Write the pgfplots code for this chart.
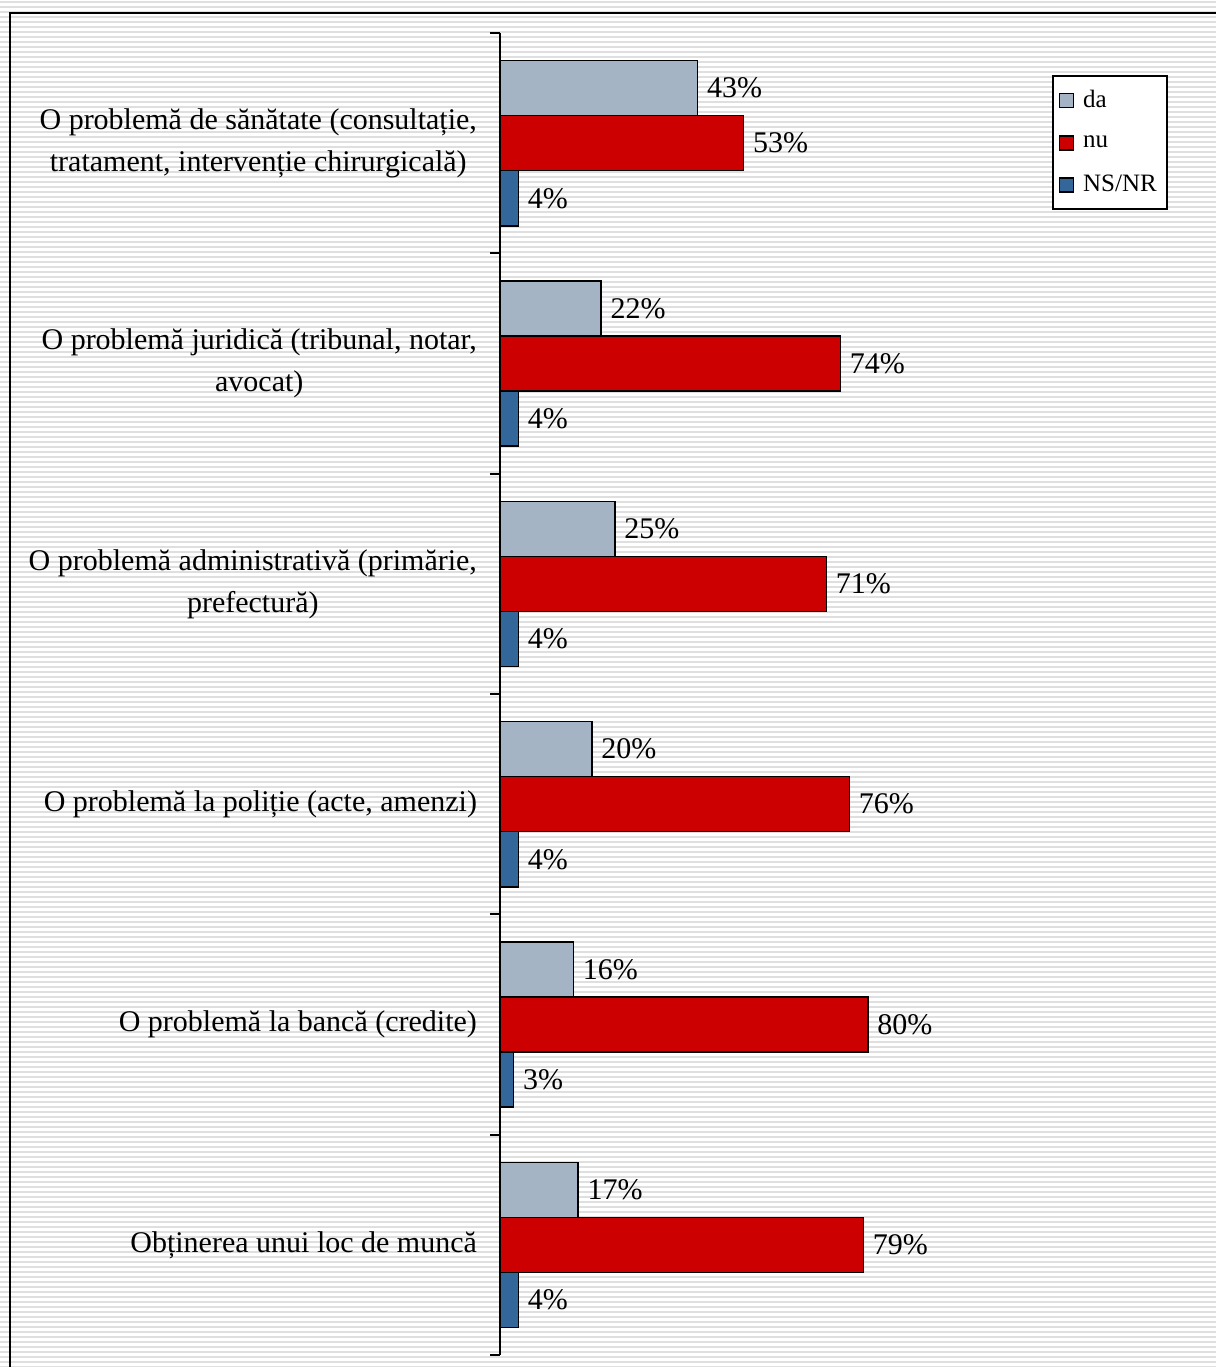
\documentclass[border=0pt]{standalone}
\usepackage{pgfplots}
\pgfplotsset{compat=1.18}
\usepackage{fontspec}
\setmainfont{Liberation Serif}
\definecolor{cda}{RGB}{165,180,196}
\definecolor{cnu}{RGB}{204,0,0}
\definecolor{cns}{RGB}{51,102,153}
\newcommand\lblfont{\fontsize{15}{21}\selectfont}
\begin{document}
\begin{tikzpicture}
\useasboundingbox (-250pt,-6pt) rectangle (358pt,677.5pt);
\clip (-250pt,-6pt) rectangle (358pt,677.5pt);
\fill[white] (-250pt,-6pt) rectangle (358pt,677.5pt);
\foreach \y in {-6,-3.5,...,678} \draw[gray!25, line width=1.1pt] (-250pt,\y pt) -- (358pt,\y pt);
\draw[line width=1pt] (-245pt,-20pt) rectangle (400pt,671pt);
\begin{axis}[
  at={(0pt,0pt)}, anchor=south west,
  scale only axis, width=345pt, height=661pt,
  xbar, bar width=0.25,
  xmin=0, xmax=150, ymin=-0.5, ymax=5.5, y dir=reverse,
  axis x line=none, axis y line*=left,
  axis line style={-, line width=1pt, black},
  ytick={0,...,5},
  yticklabels={{O problemă de sănătate (consultație,\\tratament, intervenție chirurgicală)},
    {O problemă juridică (tribunal, notar,\\avocat)},
    {O problemă administrativă (primărie,\\prefectură)},
    {O problemă la poliție (acte, amenzi)},
    {O problemă la bancă (credite)},
    {Obținerea unui loc de muncă}},
  major tick length=0pt,
  extra y ticks={-0.5,0.5,1.5,2.5,3.5,4.5,5.5},
  extra y tick labels={},
  extra y tick style={major tick length=5pt, tick align=outside, tick style={black, line width=1pt}},
  yticklabel style={align=center, font=\lblfont, anchor=east, xshift=-8pt},
  point meta=x,
  /pgf/number format/assume math mode=true,
  nodes near coords={\pgfmathprintnumber{\pgfplotspointmeta}\%},
  every node near coord/.append style={font=\lblfont, anchor=west, xshift=1pt},
  legend entries={da,nu,NS/NR},
  legend style={at={(0.8,0.968)}, anchor=north west, draw=black, line width=0.8pt, fill=white,
    font=\fontsize{12.5}{15}\selectfont, row sep=8.5pt, inner xsep=3pt, inner ysep=5pt,
    /tikz/every odd column/.append style={column sep=2.5pt}},
  legend cell align=left,
  legend image code/.code={\draw[#1, draw=black, line width=0.7pt] (0pt,-3.5pt) rectangle (7pt,3.5pt);},
  clip=false,
]
\addplot[fill=cda, draw=black, line width=0.7pt, bar shift=-0.25] coordinates {(43,0) (22,1) (25,2) (20,3) (16,4) (17,5)};
\addplot[fill=cnu, draw=black, line width=0.7pt, bar shift=0] coordinates {(53,0) (74,1) (71,2) (76,3) (80,4) (79,5)};
\addplot[fill=cns, draw=black, line width=0.7pt, bar shift=0.25] coordinates {(4,0) (4,1) (4,2) (4,3) (3,4) (4,5)};
\end{axis}
\end{tikzpicture}
\end{document}
